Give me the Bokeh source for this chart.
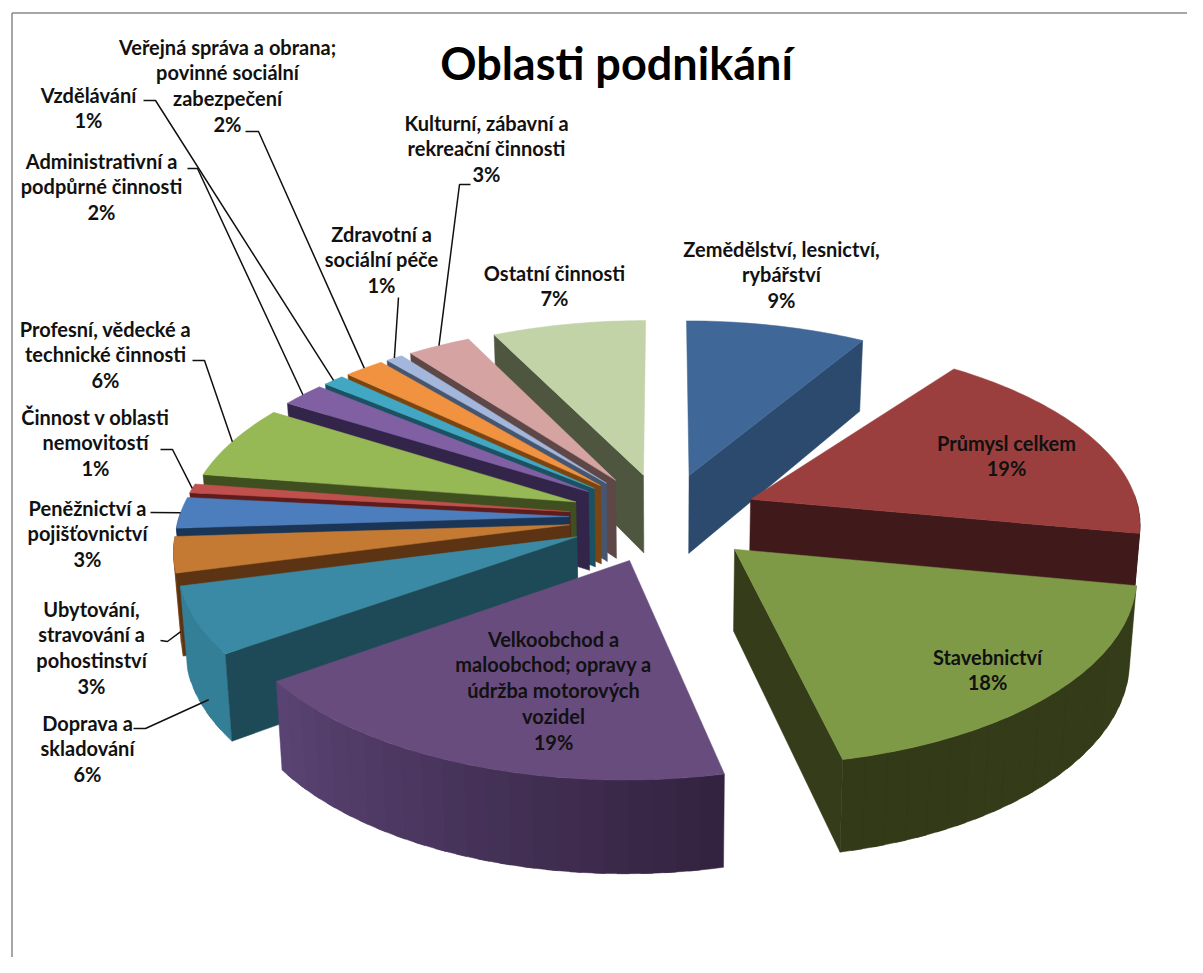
import math
from bokeh.plotting import figure
from bokeh.models import ColumnDataSource
from bokeh.core.properties import value
from bokeh.embed import file_html
from bokeh.resources import INLINE

TITLE = "Oblasti podnikání"
share_pct = [8.51, 19.49, 18.49, 18.6, 5.8, 3.1, 2.7, 0.8, 6.45, 2.1, 1.0, 1.9, 0.8, 3.0, 7.26]
label_lines = [
    ["Zemědělství, lesnictví,", "rybářství"],
    ["Průmysl celkem"],
    ["Stavebnictví"],
    ["Velkoobchod a", "maloobchod; opravy a", "údržba motorových", "vozidel"],
    ["Doprava a", "skladování"],
    ["Ubytování,", "stravování a", "pohostinství"],
    ["Peněžnictví a", "pojišťovnictví"],
    ["Činnost v oblasti", "nemovitostí"],
    ["Profesní, vědecké a", "technické činnosti"],
    ["Administrativní a", "podpůrné činnosti"],
    ["Vzdělávání"],
    ["Veřejná správa a obrana;", "povinné sociální", "zabezpečení"],
    ["Zdravotní a", "sociální péče"],
    ["Kulturní, zábavní a", "rekreační činnosti"],
    ["Ostatní činnosti"],
]

# styles: top face, radial face, outer face at slice start, outer face at slice end
top_col = ["#3f6797", "#9a3f3d", "#7f9a46", "#694c7e", "#3b8aa5", "#c47a33", "#4c7ebd", "#c0504d",
           "#96b855", "#8060a2", "#42a7c3", "#f0923f", "#a3b6db", "#d6a3a3", "#c3d3a8"]
rad_col = ["#2c4a6e", "#40191a", "#343c1a", "#33223f", "#1d4a56", "#5c3414", "#1b3556", "#5e1d1c",
           "#3f4f20", "#33254a", "#1b5263", "#7a4510", "#47566f", "#5e4747", "#4f5640"]
arc_a = ["#2c4a6e", "#40191a", "#343c1a", "#33223f", "#347f98", "#7a4a1e", "#1b3556", "#5e1d1c",
         "#3f4f20", "#33254a", "#1b5263", "#7a4510", "#47566f", "#5e4747", "#4f5640"]
arc_b = ["#2c4a6e", "#40191a", "#323a18", "#5a4474", "#347f98", "#7a4a1e", "#1b3556", "#5e1d1c",
         "#3f4f20", "#33254a", "#1b5263", "#7a4510", "#47566f", "#5e4747", "#4f5640"]
# the drawn slice start may lag its value slightly (skew of the original 3-D view), in percent points
start_inset = [0, 1.7, 0, 0, 0, 0, 0, 0, 0, 0, 0, 0, 0, 0, 0]

# label layout: centre x, first line y, None = no leader
label_cx = [781, 1006, 987, 553, 87, 91, 87, 95, 105, 101, 88, 227, 381, 486, 554]
label_y0 = [248, 442, 656, 638, 722, 608, 507, 416, 328, 160, 94, 46, 233, 122, 272]
# leader: start polyline knots, then ends on the slice at (fraction of slice arc, fraction of depth)
leader_knots = [None, None, None, None,
                [(133, 728), (145, 728)], [(160, 640), (167, 641)], [(150, 512)], [(160, 449), (172, 449)],
                [(192, 360), (204, 360)], [(187, 168), (197, 168)], [(143, 100), (155, 100)],
                [(245, 131), (258, 131)], [(398, 297)], [(470, 184), (459, 184)], None]
leader_on = [None, None, None, None, (0.35, 0.8), (0.1, 0.75), (0.5, 0), (0.5, 0), (0.5, 0), (0.5, 0),
             (0.5, 0), (0.5, 0), (0.5, 0), (0.5, 0), None]

# projection parameters
CX, CY, EXPLODE = 664.0, 517.0, 0.245
RX, RY, PERSP = 390.0, 182.4, 0.1188
DEPTH, BOTTOM_SCALE = 80.0, 0.985


def project(u, v, z=0.0):
    w = 1.0 / (1.0 - PERSP * v)
    s = 1.0 + (BOTTOM_SCALE - 1.0) * z
    return CX + RX * u * w * s, CY + RY * v * w + DEPTH * w * z


def mix(c0, c1, t):
    a = [int(c0[i:i + 2], 16) for i in (1, 3, 5)]
    b = [int(c1[i:i + 2], 16) for i in (1, 3, 5)]
    return "#%02x%02x%02x" % tuple(round(x + (y - x) * t) for x, y in zip(a, b))


total = sum(share_pct)
slices = []
acc = 0.0
for i, val in enumerate(share_pct):
    a0 = (acc + start_inset[i]) / total * 2 * math.pi
    acc += val
    a1 = acc / total * 2 * math.pi
    mid = (acc - val / 2) / total * 2 * math.pi
    slices.append(dict(i=i, a0=a0, a1=a1, ou=EXPLODE * math.sin(mid), ov=-EXPLODE * math.cos(mid),
                       key=-math.cos(mid)))


def rim(s, a, z=0.0):
    return project(s["ou"] + math.sin(a), s["ov"] - math.cos(a), z)


xs, ys, cols = [], [], []


def add(poly, col):
    xs.append([q[0] for q in poly])
    ys.append([q[1] for q in poly])
    cols.append(col)


for s in sorted(slices, key=lambda k: k["key"]):
    i, a0, a1 = s["i"], s["a0"], s["a1"]
    apex_t = project(s["ou"], s["ov"])
    apex_b = project(s["ou"], s["ov"], 1.0)
    # outer wall, overlapping strips (in order so later ones cover the joins)
    n = max(2, int((a1 - a0) / math.radians(3.0)))
    step = (a1 - a0) / n
    for k in range(n):
        p0 = a0 + step * k
        p1 = min(a1, p0 + 1.5 * step)
        if -math.cos(p0 + step / 2) > -0.02:
            strip = [rim(s, p0 + (p1 - p0) * j / 3) for j in range(4)] + \
                    [rim(s, p1 - (p1 - p0) * j / 3, 1.0) for j in range(4)]
            add(strip, mix(arc_a[i], arc_b[i], (k + 0.5) / n))
    # radial walls that face the viewer
    if math.sin(a0) < -0.01:
        add([apex_t, rim(s, a0), rim(s, a0, 1.0), apex_b], rad_col[i])
    if math.sin(a1) > 0.01:
        add([apex_t, rim(s, a1), rim(s, a1, 1.0), apex_b], rad_col[i])
    # top face
    m = max(4, int((a1 - a0) / math.radians(1.0)))
    add([apex_t] + [rim(s, a0 + (a1 - a0) * k / m) for k in range(m + 1)], top_col[i])

p = figure(width=1187, height=957, x_range=(0, 1187), y_range=(957, 0), x_axis_type=None, y_axis_type=None,
           output_backend="svg", toolbar_location=None, min_border=0, outline_line_color=None,
           background_fill_color="white", border_fill_color="white")
p.grid.visible = False

# chart frame
p.line([11.5, 11.5], [957, 12.5], line_color="#8a8a8a", line_width=1.5)
p.line([11.5, 1187], [12.5, 12.5], line_color="#8a8a8a", line_width=1.5)

src = ColumnDataSource(dict(xs=xs, ys=ys, c=cols))
p.patches("xs", "ys", source=src, fill_color="c", line_color="c", line_width=0.5)

# leader lines
for i, s in enumerate(slices):
    if leader_knots[i] is None:
        continue
    f, z = leader_on[i]
    end = rim(s, s["a0"] + (s["a1"] - s["a0"]) * f, z)
    pts = leader_knots[i] + [end]
    p.line([q[0] for q in pts], [q[1] for q in pts], line_color="#111111", line_width=1.5)

# labels
FONT = "Lato"
LINE = 25.8
tx, ty, tt = [], [], []
for i, lines in enumerate(label_lines):
    rows = lines + ["%d%%" % round(share_pct[i])]
    for k, t in enumerate(rows):
        tx.append(label_cx[i])
        ty.append(label_y0[i] + k * LINE)
        tt.append(t)
p.text(tx, ty, text=tt, text_font=value(FONT), text_font_style="bold", text_font_size="20px",
       text_align="center", text_baseline="middle", text_color="#111111")
p.text([616], [62], text=[TITLE], text_font=value(FONT), text_font_style="bold", text_font_size="45px",
       text_align="center", text_baseline="middle", text_color="#000000")

open("out.html", "w").write(file_html(p, INLINE))
